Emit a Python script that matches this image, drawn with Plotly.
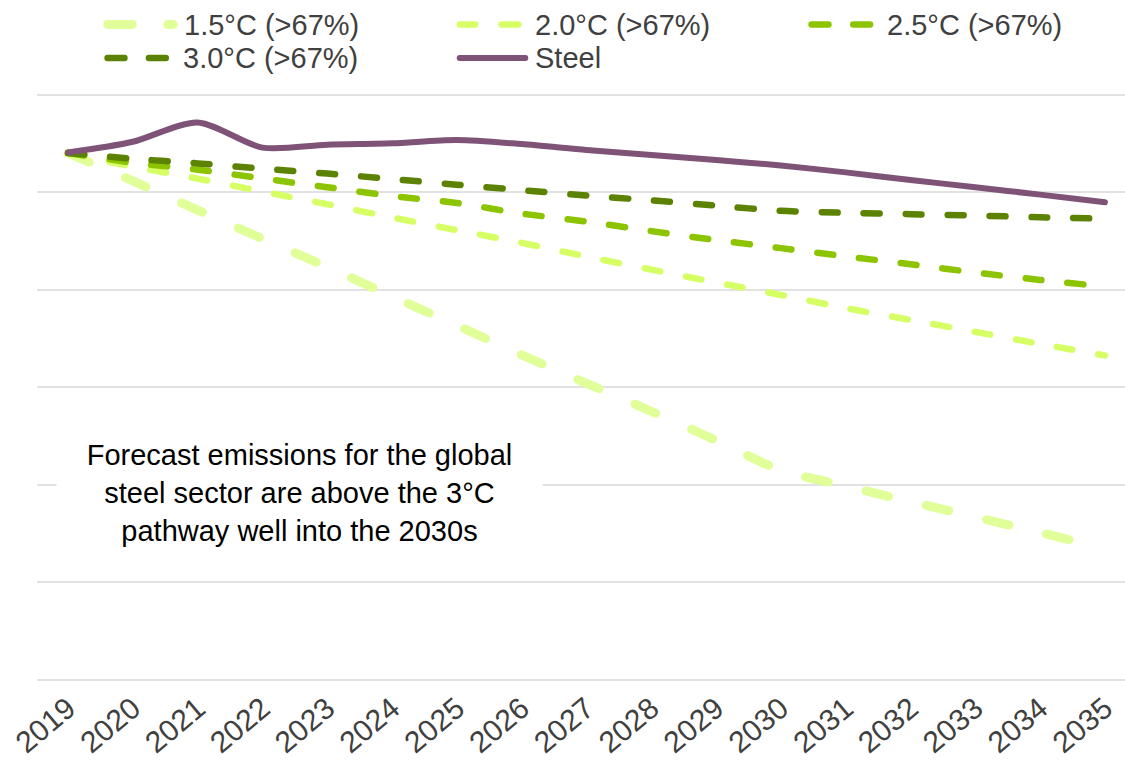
import plotly.graph_objects as go

# Years and pathway emissions (Gt CO2)
years = list(range(2019, 2036))

pathway_15 = [2.70, 2.557, 2.408, 2.261, 2.117, 1.966, 1.817, 1.666, 1.520, 1.377,
              1.228, 1.075, 0.994, 0.914, 0.835, 0.755, 0.674]
pathway_20 = [2.70, 2.631, 2.569, 2.503, 2.438, 2.370, 2.305, 2.240, 2.170, 2.103,
              2.037, 1.973, 1.906, 1.845, 1.784, 1.722, 1.663]
pathway_25 = [2.70, 2.651, 2.615, 2.570, 2.525, 2.480, 2.444, 2.390, 2.349, 2.300,
              2.254, 2.213, 2.171, 2.130, 2.088, 2.050, 2.016]
pathway_30 = [2.70, 2.671, 2.647, 2.620, 2.595, 2.567, 2.538, 2.510, 2.482, 2.458,
              2.431, 2.404, 2.394, 2.387, 2.380, 2.371, 2.364]
steel = [2.703, 2.758, 2.857, 2.728, 2.743, 2.750, 2.767, 2.746, 2.716, 2.690,
         2.665, 2.636, 2.601, 2.562, 2.525, 2.487, 2.448]

series_names = ["1.5°C (>67%)", "2.0°C (>67%)", "2.5°C (>67%)", "3.0°C (>67%)", "Steel"]
series_values = [pathway_15, pathway_20, pathway_25, pathway_30, steel]
colors = ["#E0FF98", "#D6FF66", "#8DC400", "#5B8200", "#7F5378"]
widths = [9, 6.5, 6.5, 6.5, 6]
dashes = ["23px,39px", "16px,26px", "16px,26px", "16px,26px", "solid"]

note = "Forecast emissions for the global<br>steel sector are above the 3°C<br>pathway well into the 2030s"

FONT = "Liberation Sans, Arial, sans-serif"
W, H = 1125, 765
ML, MR, MT, MB = 37, 0, 75, 84
PW, PH = W - ML - MR, H - MT - MB


def px(x):
    return (x - ML) / PW


def py(y):
    return (H - MB - y) / PH


fig = go.Figure()
for name, vals, c, w, d in zip(series_names, series_values, colors, widths, dashes):
    fig.add_trace(go.Scatter(
        x=years, y=vals, name=name, mode="lines",
        line=dict(color=c, width=w, dash=d, shape="spline", smoothing=0.8),
        showlegend=False, hoverinfo="skip",
    ))

# Hand-built legend: short line segments plus labels
legend_items = [
    # (series index, segments in px, y px, text x px)
    (0, [(103.3, 136.7), (163.3, 177.7)], 24.5, 182),
    (1, [(456.7, 478.3), (498.3, 521.7)], 24.5, 533),
    (2, [(808.3, 831.7), (850.0, 873.3)], 24.5, 885),
    (3, [(104.3, 127.7), (145.7, 169.0)], 58.0, 181),
    (4, [(456.7, 528.3)], 58.0, 533),
]
shapes = []
annotations = []
for idx, segs, ly, tx in legend_items:
    w = widths[idx]
    for x0, x1 in segs:
        shapes.append(dict(
            type="line", xref="paper", yref="paper",
            x0=px(x0 + w / 2), x1=px(x1 - w / 2), y0=py(ly), y1=py(ly),
            line=dict(color=colors[idx], width=w),
        ))
    annotations.append(dict(
        xref="paper", yref="paper", x=px(tx), y=py(ly),
        xanchor="left", yanchor="middle", showarrow=False,
        text=series_names[idx], font=dict(family=FONT, size=29, color="#404040"),
    ))

annotations.append(dict(
    xref="paper", yref="paper", x=px(299), y=py(493),
    xanchor="center", yanchor="middle", showarrow=False,
    text=note, align="center", bgcolor="white", width=483, height=118,
    font=dict(family=FONT, size=29, color="#000000"),
))

fig.update_layout(
    width=W, height=H,
    margin=dict(l=ML, r=MR, t=MT, b=MB, pad=0),
    paper_bgcolor="white", plot_bgcolor="white",
    shapes=shapes, annotations=annotations,
    xaxis=dict(
        range=[2018.522, 2035.309], tickmode="array", tickvals=years,
        ticktext=[str(y) for y in years], tickangle=-40,
        tickfont=dict(family=FONT, size=30, color="#404040"),
        ticklabelstandoff=3, automargin=False,
        showgrid=False, zeroline=False, showline=False, ticks="",
    ),
    yaxis=dict(
        range=[-0.005, 3.1], tick0=0, dtick=0.5, showticklabels=False,
        showgrid=True, gridcolor="#E2E2E2", gridwidth=2,
        zeroline=True, zerolinecolor="#E2E2E2", zerolinewidth=2,
        showline=False, ticks="", automargin=False,
    ),
    showlegend=False,
)

round_caps = """
document.querySelectorAll('.scatterlayer .js-line, .shapelayer path').forEach(function(p){
  p.style.strokeLinecap = 'round';
});
"""

fig.write_html("out.html", post_script=round_caps)
